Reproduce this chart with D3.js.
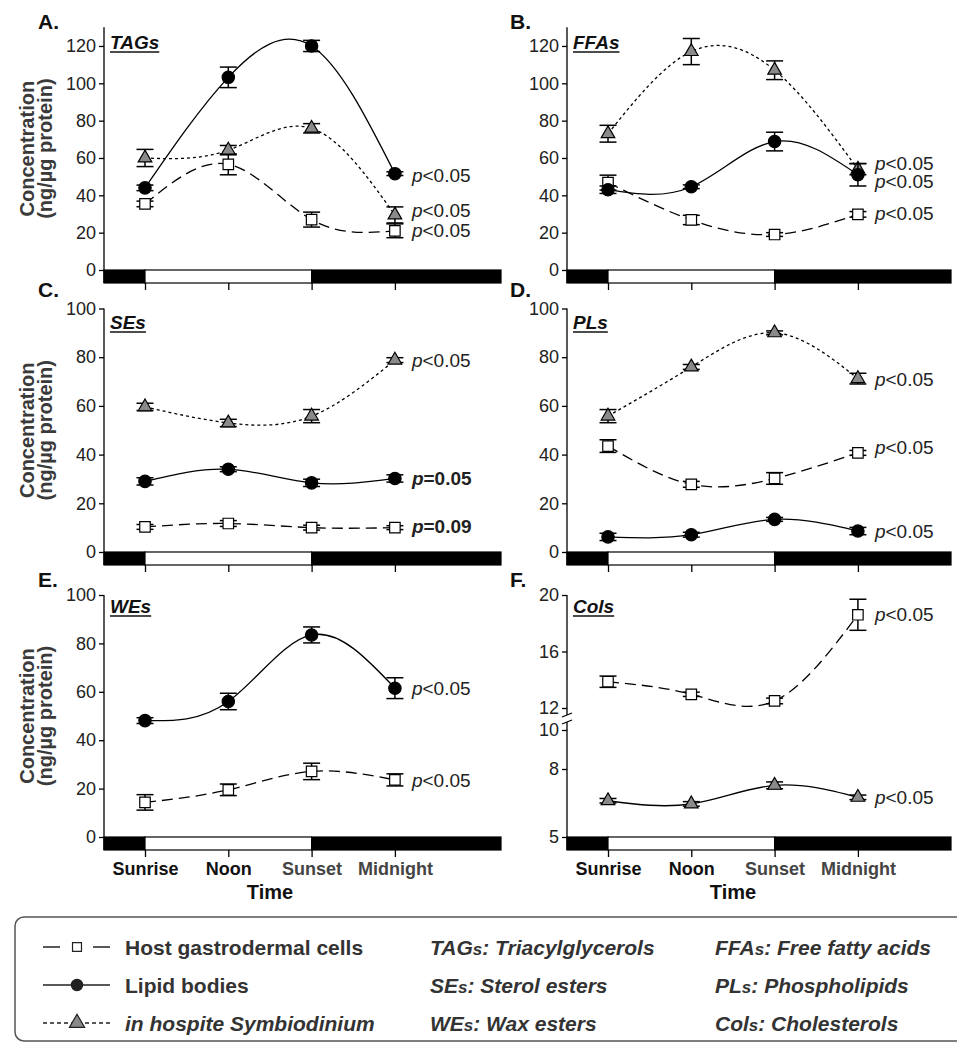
<!DOCTYPE html>
<html>
<head>
<meta charset="UTF-8">
<title>Lipid classes over the diel cycle</title>
<script src="https://d3js.org/d3.v7.min.js"></script>
<style>
  body { margin: 0; background: #fff; }
  svg { display: block; font-family: "Liberation Sans", Arial, sans-serif; }
  .ytick text { font-size: 18px; fill: #222; }
  .xtick text { font-size: 18px; font-weight: bold; }
  .plabel { font-size: 19px; fill: #222; }
  .letter { font-size: 21px; font-weight: bold; fill: #111; }
  .ptitle { font-size: 19px; font-weight: bold; font-style: italic; fill: #111; }
  .ylab { font-size: 20px; font-weight: bold; fill: #3a3a3a; }
  .legend text { font-size: 21px; font-weight: bold; fill: #333; }
</style>
</head>
<body>
<svg id="chart" width="957" height="1046"></svg>
<script>
// time points and groups
const times = ["Sunrise", "Noon", "Sunset", "Midnight"];
const groups = ["Host gastrodermal cells", "Lipid bodies", "in hospite Symbiodinium"];

// each panel: rows are [host, lipid bodies, symbiodinium]
// A. TAGs
const tagMean = [[35.4, 56.6, 27.0, 21.0], [44.0, 103.2, 120.0, 51.6], [60.0, 64.2, 75.9, 29.5]];
const tagSem  = [[1.5, 5.6, 4.0, 3.7], [1.5, 5.5, 3.0, 1.0], [4.6, 2.5, 2.5, 4.3]];
const tagP    = ["p<0.05", "p<0.05", "p<0.05"];
const tagPAt  = [21.0, 50.9, 31.8];

// B. FFAs
const ffaMean = [[46.8, 26.8, 19.0, 29.8], [43.0, 44.6, 68.8, 51.0], [73.0, 117.0, 107.0, 54.0]];
const ffaSem  = [[4.0, 2.5, 1.0, 1.5], [2.0, 1.0, 5.0, 6.0], [4.5, 7.0, 5.0, 3.0]];
const ffaP    = ["p<0.05", "p<0.05", "p<0.05"];
const ffaPAt  = [30.4, 47.3, 57.1];

// C. SEs
const seMean = [[10.3, 11.7, 10.0, 10.0], [29.0, 34.0, 28.4, 30.2], [59.6, 53.0, 55.8, 78.8]];
const seSem  = [[1.0, 1.2, 1.0, 0.8], [1.5, 1.0, 1.5, 1.5], [1.5, 1.5, 2.7, 1.0]];
const seP    = ["p=0.09", "p=0.05", "p<0.05"];
const sePAt  = [10.6, 30.2, 78.8];

// D. PLs
const plMean = [[43.5, 27.8, 30.2, 40.7], [6.2, 7.1, 13.4, 8.6], [55.8, 76.0, 90.0, 71.2]];
const plSem  = [[2.6, 1.2, 2.4, 1.0], [1.5, 1.0, 0.8, 1.5], [2.7, 1.0, 0.8, 2.2]];
const plP    = ["p<0.05", "p<0.05", "p<0.05"];
const plPAt  = [43.0, 8.6, 71.1];

// E. WEs
const weMean = [[14.3, 19.5, 27.1, 23.6], [48.1, 56.0, 83.5, 61.5], null];
const weSem  = [[3.2, 2.4, 3.4, 2.5], [1.2, 3.4, 3.3, 4.3], null];
const weP    = ["p<0.05", "p<0.05", null];
const wePAt  = [23.6, 61.6, null];

// F. Cols
const colMean = [[13.86, 12.97, 12.5, 18.6], null, [6.6, 6.46, 7.28, 6.75]];
const colSem  = [[0.4, 0.15, 0.2, 1.1], null, [0.1, 0.1, 0.15, 0.1]];
const colP    = ["p<0.05", null, "p<0.05"];
const colPAt  = [18.6, null, 6.76];

const ticks130 = [0, 20, 40, 60, 80, 100, 120];
const ticks100 = [0, 20, 40, 60, 80, 100];
const ticksCol = [5, 8, 10, 12, 16, 20];

const legendAbbr = [["TAG", "Triacylglycerols"], ["SE", "Sterol esters"], ["WE", "Wax esters"],
                    ["FFA", "Free fatty acids"], ["PL", "Phospholipids"], ["Col", "Cholesterols"]];

// layout
const svg = d3.select("#chart");
svg.append("rect").attr("width", 957).attr("height", 1046).attr("fill", "#fff");

const columns = [{axisX: 104, barEnd: 501, letterX: 38}, {axisX: 567, barEnd: 951, letterX: 510}];
const rows = [
  {base: 270, top: 27.3, letterY: 29, titleY: 49},
  {base: 552, top: 308.5, letterY: 297, titleY: 329},
  {base: 837, top: 595, letterY: 587, titleY: 613}
];
const barH = 13, step = 83.3;

const styles = [
  {dash: "11,6", symbol: d3.symbolSquare, size: 110, fill: "#fff"},
  {dash: null, symbol: d3.symbolCircle, size: 120, fill: "#000"},
  {dash: "3,3", symbol: d3.symbolTriangle, size: 80, fill: "#8a8a8a"}
];

const panels = [
  {letter: "A.", title: "TAGs", col: 0, row: 0, mean: tagMean, sem: tagSem, p: tagP, pAt: tagPAt, ticks: ticks130, max: 130},
  {letter: "B.", title: "FFAs", col: 1, row: 0, mean: ffaMean, sem: ffaSem, p: ffaP, pAt: ffaPAt, ticks: ticks130, max: 130},
  {letter: "C.", title: "SEs", col: 0, row: 1, mean: seMean, sem: seSem, p: seP, pAt: sePAt, ticks: ticks100, max: 100},
  {letter: "D.", title: "PLs", col: 1, row: 1, mean: plMean, sem: plSem, p: plP, pAt: plPAt, ticks: ticks100, max: 100},
  {letter: "E.", title: "WEs", col: 0, row: 2, mean: weMean, sem: weSem, p: weP, pAt: wePAt, ticks: ticks100, max: 100},
  {letter: "F.", title: "Cols", col: 1, row: 2, mean: colMean, sem: colSem, p: colP, pAt: colPAt, ticks: ticksCol, broken: true}
];

panels.forEach(p => {
  const c = columns[p.col], r = rows[p.row];
  const g = svg.append("g");

  const x = d3.scaleLinear().domain([0, 3]).range([c.axisX + 41, c.axisX + 41 + 3 * step]);
  let y;
  if (p.broken) {
    y = d3.scaleLinear().domain([5, 8, 10, 12, 20])
      .range([r.base, r.base - 68, r.base - 107, r.base - 129, r.top]);
  } else {
    y = d3.scaleLinear().domain([0, p.max]).range([r.base, r.top]);
  }

  // light / dark bar
  const periods = [[c.axisX, x(0), "#000"], [x(0), x(2), "#fff"], [x(2), c.barEnd, "#000"]];
  g.selectAll(".period").data(periods).enter().append("rect")
    .attr("x", d => d[0]).attr("y", r.base)
    .attr("width", d => d[1] - d[0]).attr("height", barH)
    .attr("fill", d => d[2]).attr("stroke", "#000").attr("stroke-width", 1.2);

  // x ticks
  const xAxis = d3.axisBottom(x).tickValues([0, 1, 2, 3]).tickSize(7).tickPadding(5)
    .tickFormat(i => p.row === 2 ? times[i] : "");
  const xg = g.append("g").attr("class", "xtick")
    .attr("transform", `translate(0,${r.base + barH})`).call(xAxis);
  xg.select(".domain").remove();
  xg.selectAll("line").attr("stroke-width", 1.3);
  xg.selectAll("text").attr("fill", (d, i) => i < 2 ? "#111" : "#444");
  if (p.row === 2) {
    g.append("text").attr("x", x(1.5)).attr("y", r.base + 62)
      .attr("text-anchor", "middle").attr("font-size", 20).attr("font-weight", "bold")
      .attr("fill", "#111").text("Time");
  }

  // y axis
  const yAxis = d3.axisLeft(y).tickValues(p.ticks).tickSize(5).tickPadding(3);
  const yg = g.append("g").attr("class", "ytick").attr("transform", `translate(${c.axisX},0)`).call(yAxis);
  yg.select(".domain").remove();
  yg.selectAll("line").attr("stroke-width", 1.3);
  if (p.broken) {
    const b1 = r.base - 122, b2 = r.base - 115;
    g.append("line").attr("x1", c.axisX).attr("x2", c.axisX).attr("y1", r.top).attr("y2", b1)
      .attr("stroke", "#000").attr("stroke-width", 1.3);
    g.append("line").attr("x1", c.axisX).attr("x2", c.axisX).attr("y1", b2).attr("y2", r.base + barH)
      .attr("stroke", "#000").attr("stroke-width", 1.3);
    [b1, b2].forEach(b => g.append("line")
      .attr("x1", c.axisX - 5).attr("y1", b + 2).attr("x2", c.axisX + 5).attr("y2", b - 2)
      .attr("stroke", "#000").attr("stroke-width", 1.3));
  } else {
    g.append("line").attr("x1", c.axisX).attr("x2", c.axisX).attr("y1", r.top).attr("y2", r.base + barH)
      .attr("stroke", "#000").attr("stroke-width", 1.3);
  }

  // y title on left column only
  if (p.col === 0) {
    const cy = (r.base + r.top) / 2;
    g.append("text").attr("class", "ylab").attr("transform", `translate(34,${cy}) rotate(-90)`)
      .attr("text-anchor", "middle").text("Concentration");
    g.append("text").attr("class", "ylab").attr("transform", `translate(52,${cy}) rotate(-90)`)
      .attr("text-anchor", "middle").text("(ng/µg protein)");
  }

  // panel letter and title
  g.append("text").attr("class", "letter").attr("x", c.letterX).attr("y", r.letterY).text(p.letter);
  const t = g.append("text").attr("class", "ptitle").attr("x", c.axisX + 6).attr("y", r.titleY).text(p.title);
  const tw = t.node().getComputedTextLength();
  g.append("line").attr("x1", c.axisX + 6).attr("x2", c.axisX + 6 + tw)
    .attr("y1", r.titleY + 3).attr("y2", r.titleY + 3).attr("stroke", "#111").attr("stroke-width", 1.6);

  // series
  const line = d3.line().x((d, i) => x(i)).y(d => y(d)).curve(d3.curveNatural);
  const order = [0, 2, 1];
  order.forEach(k => {
    if (!p.mean[k]) return;
    const st = styles[k];
    const dash = (p.broken && k === 2) ? null : st.dash;
    g.append("path").datum(p.mean[k]).attr("d", line)
      .attr("fill", "none").attr("stroke", "#000").attr("stroke-width", 1.3)
      .attr("stroke-dasharray", dash);
  });
  order.forEach(k => {
    if (!p.mean[k]) return;
    const st = styles[k];
    const pts = p.mean[k].map((m, i) => ({i, m, e: p.sem[k][i]}));
    const eb = g.append("g");
    eb.selectAll(".v").data(pts).enter().append("line")
      .attr("x1", d => x(d.i)).attr("x2", d => x(d.i))
      .attr("y1", d => y(d.m - d.e)).attr("y2", d => y(d.m + d.e))
      .attr("stroke", "#000").attr("stroke-width", 1.5);
    [-1, 1].forEach(sgn => {
      eb.selectAll(".cap" + sgn).data(pts).enter().append("line")
        .attr("x1", d => x(d.i) - 8.5).attr("x2", d => x(d.i) + 8.5)
        .attr("y1", d => y(d.m + sgn * d.e)).attr("y2", d => y(d.m + sgn * d.e))
        .attr("stroke", "#000").attr("stroke-width", 1.5);
    });
    g.selectAll(".mk" + k).data(pts).enter().append("path")
      .attr("transform", d => `translate(${x(d.i)},${y(d.m)})`)
      .attr("d", d3.symbol().type(st.symbol).size(st.size))
      .attr("fill", st.fill).attr("stroke", "#000").attr("stroke-width", 1.2);

    // p value label
    if (p.p[k]) {
      const bold = p.p[k].startsWith("p=");
      const lab = g.append("text").attr("class", "plabel")
        .attr("x", x(3) + 17).attr("y", y(p.pAt[k])).attr("dy", "0.35em")
        .attr("font-weight", bold ? "bold" : "normal");
      lab.append("tspan").attr("font-style", "italic").text("p");
      lab.append("tspan").text(p.p[k].slice(1));
    }
  });
});

// legend
const lg = svg.append("g").attr("class", "legend");
lg.append("rect").attr("x", 15).attr("y", 917).attr("width", 980).attr("height", 124).attr("rx", 9)
  .attr("fill", "none").attr("stroke", "#555").attr("stroke-width", 1.5);
const legendY = [955, 993, 1031];
const legendDash = ["17,33", null, "4,3"];
groups.forEach((name, k) => {
  const yy = legendY[k];
  lg.append("line").attr("x1", 43).attr("x2", 110).attr("y1", yy - 8).attr("y2", yy - 8)
    .attr("stroke", "#222").attr("stroke-width", 1.5).attr("stroke-dasharray", legendDash[k]);
  lg.append("path").attr("transform", `translate(77,${yy - 8})`)
    .attr("d", d3.symbol().type(styles[k].symbol).size(k === 0 ? 80 : 100))
    .attr("fill", k === 0 ? "#fff" : (k === 1 ? "#222" : "#8a8a8a")).attr("stroke", "#222").attr("stroke-width", 1.2);
  lg.append("text").attr("x", 125).attr("y", yy).attr("font-style", k === 2 ? "italic" : "normal").text(name);
});
legendAbbr.forEach((a, i) => {
  const tx = lg.append("text").attr("x", i < 3 ? 430 : 715).attr("y", legendY[i % 3]).attr("font-style", "italic");
  tx.append("tspan").text(a[0]);
  tx.append("tspan").attr("font-size", 17).text("s");
  tx.append("tspan").text(": " + a[1]);
});
</script>
</body>
</html>
